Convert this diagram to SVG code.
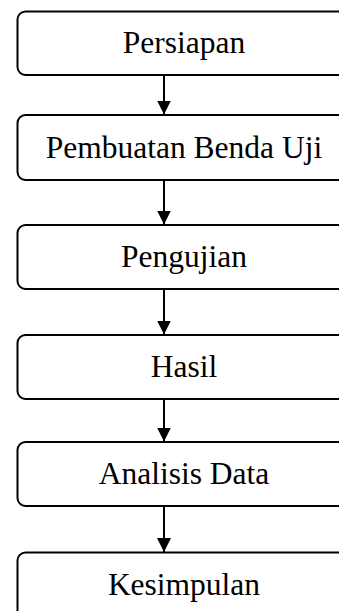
<svg xmlns="http://www.w3.org/2000/svg" width="339" height="611" viewBox="0 0 339 611">
<defs>
<style>
.box{fill:#fff;stroke:#000;stroke-width:2}
.lbl{font-family:"Liberation Serif","Times New Roman",serif;font-size:31.5px;fill:#000;text-anchor:middle}
.conn line{stroke:#000;stroke-width:2}
</style>
<marker id="ah" markerUnits="userSpaceOnUse" markerWidth="14" markerHeight="14" refX="14" refY="7" orient="auto" viewBox="0 0 14 14">
<path d="M0,0 L14,7 L0,14 Z" fill="#000"/>
</marker>
</defs>
<rect width="339" height="611" fill="#fff"/>
<g id="n1"><rect class="box" x="17.5" y="11.5" width="340" height="63.5" rx="8"/><text class="lbl" x="184" y="52.5">Persiapan</text></g>
<g id="n2"><rect class="box" x="17.5" y="115" width="340" height="65" rx="8"/><text class="lbl" x="184" y="157.5">Pembuatan Benda Uji</text></g>
<g id="n3"><rect class="box" x="17.5" y="225" width="340" height="64" rx="8"/><text class="lbl" x="184" y="266.5">Pengujian</text></g>
<g id="n4"><rect class="box" x="17.5" y="335" width="340" height="64" rx="8"/><text class="lbl" x="184" y="376.5">Hasil</text></g>
<g id="n5"><rect class="box" x="17.5" y="442" width="340" height="64" rx="8"/><text class="lbl" x="184" y="484">Analisis Data</text></g>
<g id="n6"><rect class="box" x="17.5" y="552.5" width="340" height="80" rx="8"/><text class="lbl" x="184" y="595">Kesimpulan</text></g>
<g class="conn" id="connectors">
<line x1="164" y1="75" x2="164" y2="114.5" marker-end="url(#ah)"/>
<line x1="164" y1="180" x2="164" y2="224.5" marker-end="url(#ah)"/>
<line x1="164" y1="289" x2="164" y2="334.5" marker-end="url(#ah)"/>
<line x1="164" y1="399" x2="164" y2="441.5" marker-end="url(#ah)"/>
<line x1="164" y1="506" x2="164" y2="552" marker-end="url(#ah)"/>
</g>
</svg>
